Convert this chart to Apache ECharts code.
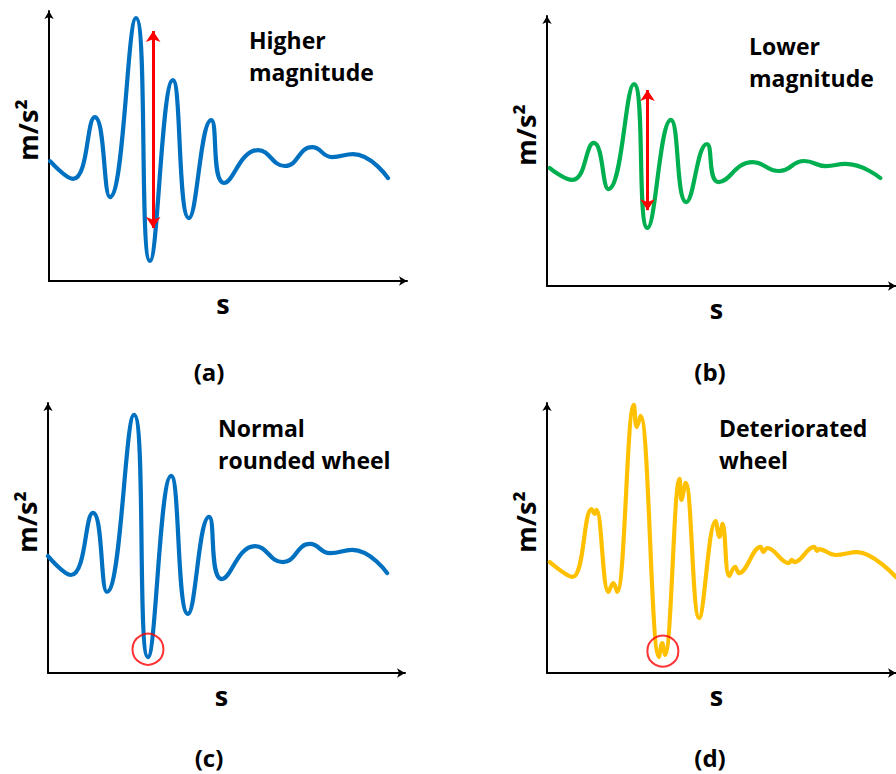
<!DOCTYPE html>
<html>
<head>
<meta charset="utf-8">
<script src="https://cdn.jsdelivr.net/npm/echarts@6/dist/echarts.min.js"></script>
<style>
  html, body { margin: 0; padding: 0; background: #ffffff; }
  #chart { width: 896px; height: 774px; }
</style>
</head>
<body>
<div id="chart"></div>
<script>
// ---- Data (abstract units: time axis 0..100, acceleration axis 0..100) ----
// (a) Higher magnitude
const xA = [0.3, 6.7, 12.8, 17.0, 24.3, 28.2, 34.6, 39.1, 45.3, 48.9, 58.4, 65.9, 73.5, 79.1, 84.9, 94.7];
const yA = [44.4, 37.8, 60.7, 31.1, 97.4, 7.4, 74.4, 23.3, 59.6, 36.3, 48.5, 42.6, 49.6, 45.9, 47.0, 38.1];
// (b) Lower magnitude
const xB = [0.8, 7.3, 13.4, 17.6, 24.9, 28.8, 35.5, 39.9, 45.8, 49.2, 58.9, 66.5, 73.7, 79.9, 85.5, 95.5];
const yB = [43.7, 39.3, 53.0, 35.9, 74.8, 21.5, 61.5, 31.1, 52.6, 38.5, 45.9, 42.6, 46.3, 44.4, 45.2, 40.0];
// (c) Normal rounded wheel
const xC = [0, 6.4, 12.6, 16.5, 24.1, 28.0, 34.5, 39.2, 45.1, 48.7, 58.0, 65.8, 73.4, 79.0, 85.2, 95.0];
const yC = [43.3, 36.3, 59.3, 30.0, 95.6, 5.9, 73.0, 21.9, 57.8, 34.8, 47.0, 41.1, 47.8, 44.4, 45.6, 37.0];
// (d) Deteriorated wheel
const xD = [0.8, 7.3, 12.8, 13.7, 14.2, 17.6, 19.0, 20.1, 24.9, 25.7, 26.8, 32.1, 33.0, 33.8, 38.0, 38.5, 39.7, 43.6,
            48.3, 49.4, 50.3, 52.2, 53.9, 55.0, 61.2, 62.0, 63.1, 69.3, 70.1, 70.9, 76.5, 77.4, 77.9, 82.7, 88.8, 100];
const yD = [41.1, 35.6, 60.7, 58.9, 60.4, 30.0, 33.3, 30.0, 99.3, 91.1, 95.2, 5.9, 11.1, 6.7, 71.9, 64.1, 70.4, 20.4,
            56.3, 50.4, 55.2, 35.9, 39.3, 37.0, 46.7, 44.8, 46.3, 40.7, 41.9, 41.1, 46.7, 45.2, 45.9, 43.7, 44.8, 35.5];

// peak-to-peak arrows [x, yLow, yHigh]
const arrowA = [29.1, 19.6, 92.6];
const arrowB = [28.8, 28.1, 72.6];
// circled troughs [x, y]
const circleC = [28.0, 8.8];
const circleD = [33.2, 8.1];

// text
const notes = ['Higher\nmagnitude', 'Lower\nmagnitude', 'Normal\nrounded wheel', 'Deteriorated\nwheel'];
const panelTags = ['(a)', '(b)', '(c)', '(d)'];
const yName = 'm/s\u00B2';
const xName = 's';

// ---- Build ----
const FONT = "'Open Sans', 'Noto Sans', 'DejaVu Sans', sans-serif";
const zip = (xs, ys) => xs.map((x, i) => [x, ys[i]]);

const grids = [
  { left: 49,  top: 11,  width: 358, height: 270 },
  { left: 547, top: 16,  width: 358, height: 270 },
  { left: 48,  top: 403, width: 357, height: 270 },
  { left: 547, top: 403, width: 358, height: 270 }
];

const axisLine = {
  show: true, onZero: false,
  symbol: ['none', 'arrow'], symbolSize: [7, 8],
  lineStyle: { color: '#000000', width: 2 }
};

const xAxes = grids.map((g, i) => ({
  type: 'value', gridIndex: i, min: 0, max: 100,
  axisLine: axisLine, axisTick: { show: false }, axisLabel: { show: false }, splitLine: { show: false },
  name: xName, nameLocation: 'middle', nameGap: 9,
  nameTextStyle: { fontFamily: FONT, fontWeight: 'bold', fontSize: 27, color: '#000', padding: [0, 10, 0, 0] }
}));
const yAxes = grids.map((g, i) => ({
  type: 'value', gridIndex: i, min: 0, max: 100,
  axisLine: axisLine, axisTick: { show: false }, axisLabel: { show: false }, splitLine: { show: false },
  name: yName, nameLocation: 'middle', nameGap: 8, nameRotate: 90,
  nameTextStyle: { fontFamily: FONT, fontWeight: 'bold', fontSize: 27, color: '#000', padding: [0, 0, 0, 32] }
}));

function curve(i, xs, ys, color, smooth, extra) {
  return Object.assign({
    type: 'line', xAxisIndex: i, yAxisIndex: i,
    data: zip(xs, ys), smooth: smooth, showSymbol: false, symbol: 'none',
    lineStyle: { color: color, width: 4.2, cap: 'round', join: 'round' },
    silent: true, z: 3
  }, extra || {});
}
function arrowMark(a) {
  return {
    silent: true, symbol: ['arrow', 'arrow'], symbolSize: [11, 11],
    label: { show: false }, emphasis: { disabled: true },
    lineStyle: { color: '#FF0000', width: 3, type: 'solid', opacity: 1 },
    data: [[{ coord: [a[0], a[1]] }, { coord: [a[0], a[2]] }]]
  };
}
function ring(i, c) {
  return {
    type: 'scatter', xAxisIndex: i, yAxisIndex: i, data: [c],
    symbol: 'circle', symbolSize: 31, silent: true, z: 4,
    itemStyle: { color: 'rgba(0,0,0,0)', borderColor: '#FF0000', borderWidth: 2 }
  };
}

const series = [
  curve(0, xA, yA, '#0070C0', 0.5, { markLine: arrowMark(arrowA) }),
  curve(1, xB, yB, '#00B050', 0.5, { markLine: arrowMark(arrowB) }),
  curve(2, xC, yC, '#0070C0', 0.5),
  ring(2, circleC),
  curve(3, xD, yD, '#FFC000', 0.4),
  ring(3, circleD)
];

const notePos = [[249, 24], [749, 30], [218, 412], [719, 412]];
const tagPos = [[209, 371], [710, 371], [209, 757], [710, 757]];
const graphic = [];
notes.forEach((t, i) => graphic.push({
  type: 'text', left: notePos[i][0], top: notePos[i][1], silent: true,
  style: { text: t, fontFamily: FONT, fontWeight: 'bold', fontSize: 23, lineHeight: 32, fill: '#000' }
}));
panelTags.forEach((t, i) => graphic.push({
  type: 'text', x: tagPos[i][0], y: tagPos[i][1], silent: true,
  style: { text: t, fontFamily: FONT, fontWeight: 'bold', fontSize: 24, fill: '#000', align: 'center', verticalAlign: 'middle' }
}));

const chart = echarts.init(document.getElementById('chart'), null, { renderer: 'svg' });
chart.setOption({
  animation: false,
  backgroundColor: '#ffffff',
  grid: grids,
  xAxis: xAxes,
  yAxis: yAxes,
  series: series,
  graphic: graphic
});
</script>
</body>
</html>
